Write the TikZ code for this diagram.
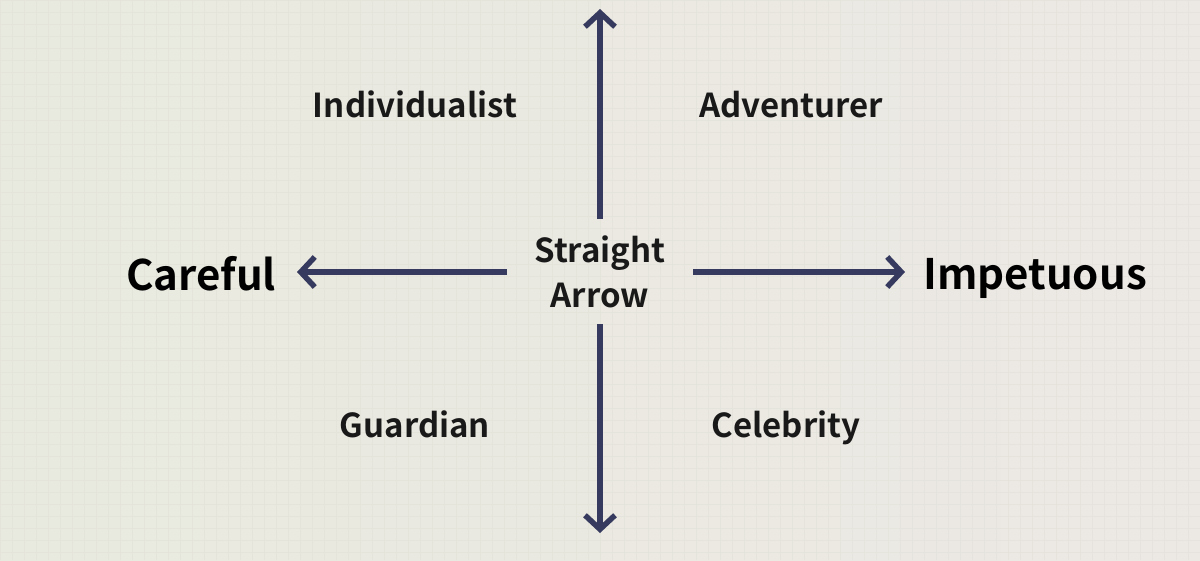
\documentclass[tikz,border=0pt]{standalone}
\usepackage{fontspec}
\setmainfont{Noto Sans CJK SC}[UprightFont={* Bold},BoldFont={* Bold}]
\usetikzlibrary{arrows.meta}
\definecolor{axis}{HTML}{363A5E}
\definecolor{bgL}{HTML}{E9EADF}
\definecolor{bgR}{HTML}{ECE8E4}
\definecolor{gridc}{HTML}{C9C8BE}
\tikzset{
  quad/.style={font=\fontsize{33}{40}\selectfont, text=black!90, anchor=base, inner sep=0pt},
  pole/.style={font=\fontsize{42}{52}\selectfont, text=black, anchor=base, inner sep=0pt},
  axisline/.style={draw=axis, line width=5.5pt, -{Straight Barb[length=14pt,width=30pt]}},
}
\begin{document}
\begin{tikzpicture}[x=1pt,y=-1pt]
\useasboundingbox (0,0) rectangle (1200,560);
\shade[left color=bgL, right color=bgR] (0,0) rectangle (1200,560);
\draw[gridc, opacity=0.15, line width=0.8pt, step=12pt] (0,0) grid (1200,560);
% axes
\coordinate (tS) at (600,219);
\coordinate (tE) at (600,9);
\coordinate (bS) at (600,324);
\coordinate (bE) at (600,533);
\coordinate (lS) at (507,272);
\coordinate (lE) at (297,272);
\coordinate (rS) at (693,272);
\coordinate (rE) at (905,272);
\draw[axisline] (tS) -- (tE);
\draw[axisline] (bS) -- (bE);
\draw[axisline] (lS) -- (lE);
\draw[axisline] (rS) -- (rE);
% labels
\node[quad] (ind) at (415,117) {Individualist};
\node[quad] (adv) at (791,117) {Adventurer};
\node[quad] (gua) at (415,437) {Guardian};
\node[quad] (cel) at (786,437) {Celebrity};
\node[pole] (car) at (201,290) {Careful};
\node[pole] (imp) at (1035,289) {Impetuous};
\node[quad] (st1) at (600,262) {Straight};
\node[quad] (st2) at (600,307) {Arrow};
\end{tikzpicture}
\end{document}
